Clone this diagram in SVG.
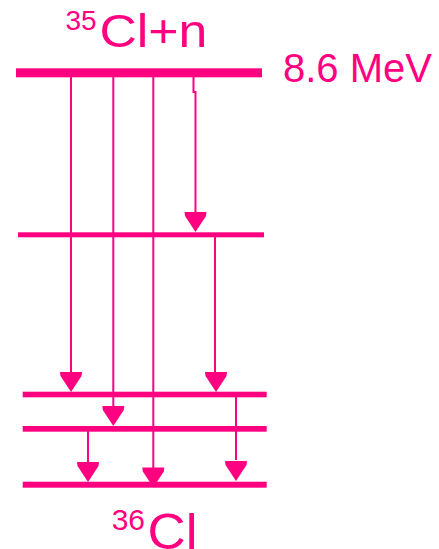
<svg xmlns="http://www.w3.org/2000/svg" width="439" height="549" viewBox="0 0 439 549">
  <style>
    .lvl { fill: #ff0080; }
    .tr { stroke: #ff0080; stroke-width: 2; fill: none; }
    .lbl { fill: #ff0080; font-family: "Liberation Sans", Arial, sans-serif; }
  </style>
  <defs>
    <polygon id="head" points="-11,0 11,0 10.5,4 0,20 -10.5,4" fill="#ff0080"/>
  </defs>
  <rect width="439" height="549" fill="#ffffff"/>

  <!-- capture state -->
  <g id="capture">
    <rect class="lvl" x="16" y="68.3" width="246" height="9"/>
    <text class="lbl" x="65.5" y="30" font-size="28">35</text>
    <text class="lbl" x="99.4" y="46.7" font-size="46" textLength="108" lengthAdjust="spacingAndGlyphs">Cl+n</text>
    <text class="lbl" x="283" y="81.7" font-size="40">8.6 MeV</text>
  </g>

  <!-- intermediate levels -->
  <g id="level2"><rect class="lvl" x="18" y="232.3" width="246" height="5"/></g>
  <g id="level3"><rect class="lvl" x="22.7" y="391.7" width="244" height="5.6"/></g>
  <g id="level4"><rect class="lvl" x="22.7" y="426" width="244" height="5.7"/></g>

  <!-- ground state -->
  <g id="ground">
    <rect class="lvl" x="22.7" y="481.7" width="244" height="6"/>
    <text class="lbl" x="111.7" y="530" font-size="30">36</text>
    <text class="lbl" x="147.5" y="548.5" font-size="50" textLength="50" lengthAdjust="spacingAndGlyphs">Cl</text>
  </g>

  <!-- gamma transitions -->
  <g id="transitions">
    <line class="tr" x1="71" y1="77" x2="71" y2="376"/>
    <use href="#head" x="71" y="372"/>
    <line class="tr" x1="113.3" y1="77" x2="113.3" y2="407"/>
    <use href="#head" x="113.3" y="406"/>
    <line class="tr" x1="153.3" y1="77" x2="153.3" y2="468"/>
    <use href="#head" x="153.3" y="467.5"/>
    <polyline class="tr" points="193.5,77 193.5,92 195.5,92 195.5,213"/>
    <use href="#head" x="195.5" y="212"/>
    <line class="tr" x1="215" y1="237" x2="215" y2="376"/>
    <use href="#head" x="216" y="372"/>
    <line class="tr" x1="236" y1="397" x2="236" y2="460"/>
    <use href="#head" x="236" y="461"/>
    <line class="tr" x1="88" y1="431" x2="88" y2="463"/>
    <use href="#head" x="88" y="462"/>
  </g>
</svg>
